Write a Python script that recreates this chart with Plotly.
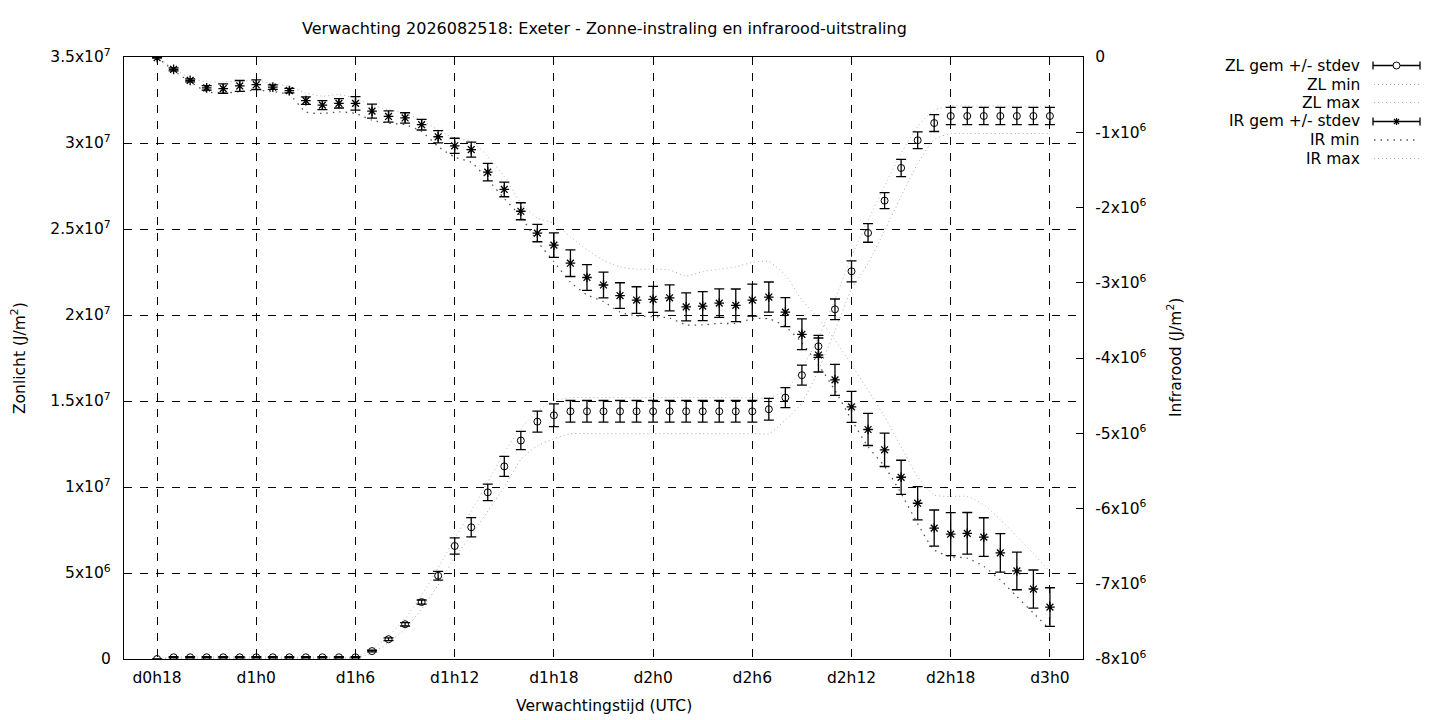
import plotly.graph_objects as go

# ---- data (hours since d0h0) ----
hours = list(range(18, 73))

# Zonlicht (J/m2), values in 1e6
zl_mean = [0.0] + [0.1] * 12 + [0.46, 1.15, 2.02, 3.31, 4.84, 6.57, 7.66, 9.69, 11.2, 12.7, 13.8, 14.17] \
    + [14.4] * 11 + [14.4, 14.52, 15.2, 16.5, 18.18, 20.33, 22.54, 24.77, 26.65, 28.55, 30.16, 31.16] + [31.57] * 7
zl_std = [0.0] + [0.03] * 12 + [0.05, 0.08, 0.1, 0.12, 0.25, 0.47, 0.56, 0.48, 0.58, 0.53, 0.61, 0.66] \
    + [0.63] * 11 + [0.63, 0.63, 0.58, 0.58, 0.64, 0.6, 0.61, 0.54, 0.46, 0.5, 0.49, 0.49] + [0.5] * 7
zl_max = [0.0] + [0.12] * 12 + [0.55, 1.35, 2.35, 3.7, 5.3, 7.0, 8.6, 10.3, 12.0, 13.4, 14.4, 15.0] \
    + [15.2] * 13 + [15.6, 16.9, 18.7, 20.9, 23.4, 25.5, 27.5, 29.4, 30.95, 31.9] + [32.15] * 7
zl_min = [0.0] + [0.05] * 12 + [0.35, 0.95, 1.75, 2.9, 4.3, 5.9, 7.2, 8.6, 10.0, 11.6, 12.4, 12.8] \
    + [13.1] * 13 + [13.9, 14.9, 16.8, 19.1, 21.5, 23.0, 24.9, 26.9, 28.8, 30.2] + [30.55] * 7

# Infrarood (J/m2), values in 1e6
ir_mean = [-0.01, -0.164, -0.31, -0.41, -0.42, -0.385, -0.368, -0.40, -0.447, -0.58, -0.64, -0.616, -0.616,
           -0.72, -0.79, -0.81, -0.90, -1.06, -1.18, -1.23, -1.53, -1.76, -2.05, -2.34, -2.50, -2.74, -2.93,
           -3.03, -3.17, -3.23, -3.22, -3.20, -3.32, -3.31, -3.27, -3.30, -3.23, -3.19, -3.39, -3.685, -3.96,
           -4.29, -4.65, -4.95, -5.22, -5.585, -5.93, -6.26, -6.34, -6.33, -6.38, -6.59, -6.83, -7.07, -7.31]
ir_std = [0.0, 0.02, 0.02, 0.03, 0.062, 0.073, 0.064, 0.03, 0.03, 0.05, 0.06, 0.062, 0.089, 0.093, 0.075,
          0.069, 0.07, 0.082, 0.1, 0.1, 0.117, 0.097, 0.113, 0.115, 0.164, 0.177, 0.17, 0.17, 0.17, 0.177,
          0.173, 0.173, 0.186, 0.193, 0.189, 0.217, 0.213, 0.2, 0.193, 0.204, 0.226, 0.206, 0.206, 0.213,
          0.222, 0.226, 0.222, 0.24, 0.286, 0.277, 0.257, 0.255, 0.25, 0.253, 0.257]
ir_max = [0.0, -0.15, -0.28, -0.33, -0.33, -0.32, -0.32, -0.35, -0.39, -0.48, -0.52, -0.50, -0.55, -0.64,
          -0.70, -0.75, -0.84, -0.97, -1.08, -1.12, -1.32, -1.59, -1.94, -2.14, -2.21, -2.39, -2.56, -2.70,
          -2.79, -2.82, -2.82, -2.83, -2.91, -2.85, -2.82, -2.79, -2.73, -2.72, -2.90, -3.23, -3.47, -3.76,
          -4.09, -4.43, -4.78, -5.18, -5.58, -5.82, -5.84, -5.84, -5.95, -6.15, -6.37, -6.6, -6.84]
ir_min = [0.0, -0.18, -0.33, -0.46, -0.48, -0.46, -0.44, -0.46, -0.5, -0.73, -0.75, -0.73, -0.75, -0.84,
          -0.88, -0.9, -0.99, -1.19, -1.33, -1.40, -1.63, -1.88, -2.12, -2.45, -2.72, -2.99, -3.16, -3.25,
          -3.39, -3.44, -3.45, -3.47, -3.56, -3.56, -3.54, -3.54, -3.48, -3.48, -3.58, -3.80, -4.09, -4.43,
          -4.82, -5.18, -5.44, -5.80, -6.2, -6.55, -6.64, -6.66, -6.77, -6.95, -7.17, -7.39, -7.61]

x_tickvals = [18, 24, 30, 36, 42, 48, 54, 60, 66, 72]
x_ticktext = ["d0h18", "d1h0", "d1h6", "d1h12", "d1h18", "d2h0", "d2h6", "d2h12", "d2h18", "d3h0"]
y_tickvals = [0, 5e6, 1e7, 1.5e7, 2e7, 2.5e7, 3e7, 3.5e7]
y_ticktext = ["0", "5x10<sup>6</sup>", "1x10<sup>7</sup>", "1.5x10<sup>7</sup>", "2x10<sup>7</sup>",
              "2.5x10<sup>7</sup>", "3x10<sup>7</sup>", "3.5x10<sup>7</sup>"]
y2_tickvals = [0, -1e6, -2e6, -3e6, -4e6, -5e6, -6e6, -7e6, -8e6]
y2_ticktext = ["0"] + ["-%dx10<sup>6</sup>" % k for k in range(1, 9)]

legend_labels = ["ZL gem +/- stdev", "ZL min", "ZL max", "IR gem +/- stdev", "IR min", "IR max"]

M = 1e6
sc = lambda a: [v * M for v in a]

FONT = "DejaVu Sans"
FS = 15.5
fig = go.Figure()

# min / max dotted lines
fig.add_trace(go.Scatter(x=hours, y=sc(zl_min), mode="lines", yaxis="y", showlegend=False,
                         line=dict(color="#a8a8a8", width=1, dash="1px,3px", shape="spline", smoothing=0.6)))
fig.add_trace(go.Scatter(x=hours, y=sc(zl_max), mode="lines", yaxis="y", showlegend=False,
                         line=dict(color="#b8b8b8", width=1, dash="1px,3px", shape="spline", smoothing=0.6)))
fig.add_trace(go.Scatter(x=hours, y=sc(ir_min), mode="lines", yaxis="y2", showlegend=False,
                         line=dict(color="#555555", width=1.3, dash="1.5px,5px", shape="spline", smoothing=0.6)))
fig.add_trace(go.Scatter(x=hours, y=sc(ir_max), mode="lines", yaxis="y2", showlegend=False,
                         line=dict(color="#b0b0b0", width=1, dash="1px,3px", shape="spline", smoothing=0.6)))

# means with error bars
fig.add_trace(go.Scatter(x=hours, y=sc(zl_mean), mode="markers", yaxis="y", showlegend=False,
                         marker=dict(symbol="circle-open", size=7, color="black", line=dict(width=1)),
                         error_y=dict(type="data", array=sc(zl_std), width=5, thickness=1.3, color="black")))
fig.add_trace(go.Scatter(x=hours, y=sc(ir_mean), mode="markers", yaxis="y2", showlegend=False,
                         marker=dict(symbol="asterisk-open", size=8, color="black", line=dict(width=1.3)),
                         error_y=dict(type="data", array=sc(ir_std), width=5, thickness=1.3, color="black")))

# ---- layout geometry (page pixels; the html body adds an 8px offset) ----
OFF = 8
L, R, T, B = 124, 1083, 57, 659
W = R - L
H = B - T
px = lambda p: (p - L) / W
py = lambda p: (B - p) / H

shapes = []
annotations = []

# custom gnuplot-style legend
leg_rows = [65.5, 84.5, 102.5, 121.5, 140, 158.5]
for label, yy in zip(legend_labels, leg_rows):
    annotations.append(dict(text=label, x=px(1362), y=py(yy), xref="paper", yref="paper",
                            xanchor="right", yanchor="middle", showarrow=False,
                            font=dict(family=FONT, size=FS, color="black")))
# error bar samples
for yy, sym in [(leg_rows[0], "o"), (leg_rows[3], "*")]:
    shapes.append(dict(type="line", xref="paper", yref="paper", x0=px(1373), x1=px(1420), y0=py(yy), y1=py(yy),
                       line=dict(color="black", width=1.3)))
    for xe in (1373, 1420):
        shapes.append(dict(type="line", xref="paper", yref="paper", x0=px(xe), x1=px(xe),
                           y0=py(yy - 4), y1=py(yy + 4), line=dict(color="black", width=1.3)))
    if sym == "o":
        shapes.append(dict(type="circle", xref="paper", yref="paper", x0=px(1393), x1=px(1400),
                           y0=py(yy + 3.5), y1=py(yy - 3.5), fillcolor="white",
                           line=dict(color="black", width=1)))
    else:
        for dx, dy in [(3.5, 0), (0, 3.5), (2.5, 2.5), (2.5, -2.5)]:
            shapes.append(dict(type="line", xref="paper", yref="paper", x0=px(1396.5 - dx), x1=px(1396.5 + dx),
                               y0=py(yy - dy), y1=py(yy + dy), line=dict(color="black", width=1.2)))
# dotted samples
dot_styles = [("#a8a8a8", 1, "1px,3px"), ("#b8b8b8", 1, "1px,3px"),
              ("#555555", 1.3, "1.5px,5px"), ("#b0b0b0", 1, "1px,3px")]
for yy, (c, w, d) in zip([leg_rows[1], leg_rows[2], leg_rows[4], leg_rows[5]], dot_styles):
    shapes.append(dict(type="line", xref="paper", yref="paper", x0=px(1374), x1=px(1419), y0=py(yy), y1=py(yy),
                       line=dict(color=c, width=w, dash=d)))

# title and axis titles
annotations.append(dict(text="Verwachting 2026082518: Exeter - Zonne-instraling en infrarood-uitstraling",
                        x=px(604), y=py(29), xref="paper", yref="paper", xanchor="center", yanchor="middle",
                        showarrow=False, font=dict(family=FONT, size=16, color="black")))
annotations.append(dict(text="Zonlicht (J/m<sup>2</sup>)", x=px(18), y=py(358), xref="paper", yref="paper",
                        xanchor="center", yanchor="middle", textangle=-90, showarrow=False,
                        font=dict(family=FONT, size=FS, color="black")))
annotations.append(dict(text="Infrarood (J/m<sup>2</sup>)", x=px(1174), y=py(358), xref="paper", yref="paper",
                        xanchor="center", yanchor="middle", textangle=-90, showarrow=False,
                        font=dict(family=FONT, size=FS, color="black")))
annotations.append(dict(text="Verwachtingstijd (UTC)", x=px(604), y=py(706), xref="paper", yref="paper",
                        xanchor="center", yanchor="middle", showarrow=False,
                        font=dict(family=FONT, size=FS, color="black")))

grid = dict(showgrid=True, gridcolor="black", gridwidth=1, griddash="8px,8px", zeroline=False)

fig.update_layout(
    width=1440, height=720,
    margin=dict(l=L - OFF, r=1440 - (L - OFF) - W, t=T - OFF, b=720 - (T - OFF) - H, pad=0),
    paper_bgcolor="white", plot_bgcolor="white",
    font=dict(family=FONT, size=FS, color="black"),
    showlegend=False,
    xaxis=dict(range=[16, 74], tickvals=x_tickvals, ticktext=x_ticktext, showline=True, linecolor="black",
               linewidth=1.3, mirror=True, ticks="inside", ticklen=0, ticklabelstandoff=4, **grid),
    yaxis=dict(range=[0, 3.5e7], tickvals=y_tickvals, ticktext=y_ticktext, showline=True, linecolor="black",
               linewidth=1.3, ticks="inside", ticklen=0, ticklabelstandoff=9, **grid),
    yaxis2=dict(range=[-8e6, 0], tickvals=y2_tickvals, ticktext=y2_ticktext, overlaying="y", side="right",
                showline=True, linecolor="black", linewidth=1.3, ticks="inside", ticklen=7, tickcolor="black",
                showgrid=False, zeroline=False, ticklabelstandoff=8),
    shapes=shapes,
    annotations=annotations,
)

fig.write_html("out.html")
